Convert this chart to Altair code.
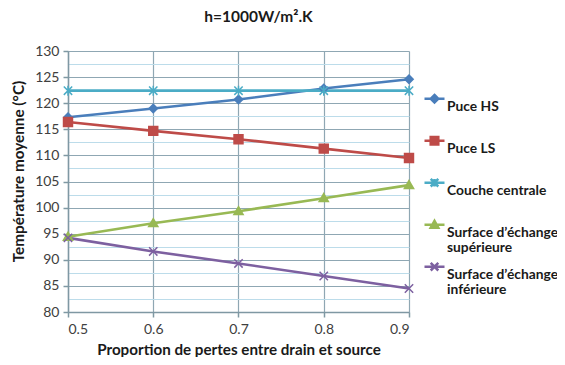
import altair as alt
import pandas as pd

# ---- data ----
x_vals = [0.5, 0.6, 0.7, 0.8, 0.9]
series = ["Puce HS", "Puce LS", "Couche centrale",
          "Surface d’échange supérieure", "Surface d’échange inférieure"]
puce_hs = [117.3, 119.0, 120.7, 122.8, 124.6]
puce_ls = [116.4, 114.7, 113.1, 111.3, 109.5]
couche_centrale = [122.4, 122.4, 122.4, 122.4, 122.4]
surface_sup = [94.4, 97.0, 99.3, 101.8, 104.3]
surface_inf = [94.2, 91.6, 89.3, 86.9, 84.5]
y_ticks = [80, 82.5, 85, 87.5, 90, 92.5, 95, 97.5, 100, 102.5, 105, 107.5,
           110, 112.5, 115, 117.5, 120, 122.5, 125, 127.5, 130]

values = [puce_hs, puce_ls, couche_centrale, surface_sup, surface_inf]
rows = []
for s, vals in zip(series, values):
    for x, v in zip(x_vals, vals):
        rows.append({"x": x, "y": v, "serie": s})
df = pd.DataFrame(rows)

# ---- style ----
colors = ["#4a7ebb", "#be4b48", "#4bacc6", "#98b954", "#7d60a0"]
marker_paths = [
    "M0,-1L1,0L0,1L-1,0Z",                                  # diamond
    "M-1,-1L1,-1L1,1L-1,1Z",                                # square
    "M-1,-1L1,1M-1,1L1,-1M0,-1.2L0,1.2",                    # star
    "M0,-1.1L1.1,0.8L-1.1,0.8Z",                            # triangle
    "M-1,-1L1,1M-1,1L1,-1",                                 # x
]
# legend symbols: short line with marker, raised to the first label line
dy = -0.78
m = 0.38
legend_paths = [
    f"M-1,{dy}L1,{dy}M0,{dy-m}L{m},{dy}L0,{dy+m}L{-m},{dy}Z",
    f"M-1,{dy}L1,{dy}M{-m},{dy-m}L{m},{dy-m}L{m},{dy+m}L{-m},{dy+m}Z",
    f"M-1,{dy}L1,{dy}M{-m},{dy-m}L{m},{dy+m}M{-m},{dy+m}L{m},{dy-m}M0,{dy-m}L0,{dy+m}",
    f"M-1,{dy}L1,{dy}M0,{dy-m}L{m},{dy+m*0.8}L{-m},{dy+m*0.8}Z",
    f"M-1,{dy}L1,{dy}M{-m},{dy-m}L{m},{dy+m}M{-m},{dy+m}L{m},{dy-m}",
]

FONT = "Lato"
major = "#8fa7b3"
minor = "#bcdcea"

x_enc = alt.X("x:Q", scale=alt.Scale(domain=[0.5, 0.9], nice=False, zero=False),
              axis=alt.Axis(values=x_vals, format=".1f",
                            title="Proportion de pertes entre drain et source",
                            titleY=37, titleBaseline="middle", titleFontSize=15.2,
                            gridColor=major, gridWidth=1.2,
                            domainColor="#7f98a3", domainWidth=1.5,
                            tickColor="#7f98a3", tickSize=5, tickWidth=1.5,
                            labelPadding=5))
y_enc = alt.Y("y:Q", scale=alt.Scale(domain=[80, 130], nice=False, zero=False),
              axis=alt.Axis(values=y_ticks, labelOverlap=False,
                            labelExpr="datum.value % 5 === 0 ? datum.label : ''",
                            title="Température moyenne (°C)",
                            titleX=-50, titleY=120, titleBaseline="middle",
                            titleAlign="center", titleFontSize=15.3,
                            gridColor={"condition": {"test": "datum.value % 5 === 0", "value": major},
                                       "value": minor},
                            gridWidth=1.2,
                            domainColor="#7f98a3", domainWidth=1.5,
                            tickColor="#7f98a3", tickWidth=1.5,
                            tickOpacity={"condition": {"test": "datum.value % 5 === 0", "value": 1},
                                         "value": 0},
                            tickSize=5, labelPadding=4))

label_expr = ("indexof(datum.label, 'Surface') === 0 ? "
              "[substring(datum.label, 0, lastindexof(datum.label, ' ')), "
              "substring(datum.label, lastindexof(datum.label, ' ') + 1)] : "
              "[datum.label, '']")

legend = alt.Legend(title=None, orient="none", legendX=355, legendY=44,
                    columns=1, rowPadding=1, padding=0,
                    labelExpr=label_expr, labelBaseline="middle",
                    labelFont=FONT, labelFontSize=13.8, labelFontWeight="bold",
                    labelColor="#1a1a1a", labelLimit=200, labelOffset=1,
                    symbolSize=400, symbolStrokeWidth=2.5, symbolOpacity=1)

stroke_enc = alt.Stroke("serie:N", scale=alt.Scale(domain=series, range=colors), legend=legend)
fill_enc = alt.Fill("serie:N", scale=alt.Scale(domain=series, range=colors), legend=legend)

base = alt.Chart(df).encode(x=x_enc, y=y_enc)

lines = base.mark_line(strokeWidth=2.6).encode(stroke=stroke_enc)

marker_layers = []
for s, p in zip(series, marker_paths):
    size = 80 if "Puce LS" == s else 70
    marker_layers.append(
        base.transform_filter(alt.datum.serie == s).mark_point(
            filled=True, shape=p, size=size, strokeWidth=1.5, opacity=1
        ).encode(fill=fill_enc, stroke=stroke_enc)
    )

legend_layer = base.mark_point(filled=True, opacity=0).encode(
    shape=alt.Shape("serie:N", scale=alt.Scale(domain=series, range=legend_paths),
                    legend=legend),
    fill=fill_enc, stroke=stroke_enc,
)

chart = alt.layer(lines, *marker_layers, legend_layer).properties(
    width=341, height=261,
    background="white",
    title=alt.TitleParams("h=1000W/m².K", fontSize=15.5, font=FONT,
                          fontWeight="bold", anchor="middle", dx=20, offset=19,
                          color="#1a1a1a"),
    autosize=alt.AutoSizeParams(type="none"),
    padding={"left": 60, "top": 43, "right": 148, "bottom": 45},
).configure_axis(
    labelFont=FONT, labelFontSize=14, labelColor="#404040",
    titleFont=FONT, titleFontSize=16.5, titleFontWeight="bold", titleColor="#1a1a1a",
).configure_view(stroke=None)

chart.save("out.html", embed_options={"renderer": "svg", "actions": False})
